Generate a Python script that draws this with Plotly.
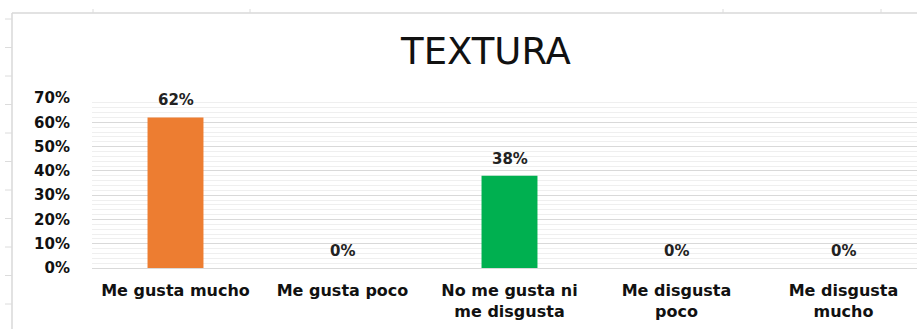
import plotly.graph_objects as go

# Survey results for texture preference
categories = [
    "Me gusta mucho",
    "Me gusta poco",
    "No me gusta ni<br>me disgusta",
    "Me disgusta<br>poco",
    "Me disgusta<br>mucho",
]
values = [0.62, 0.0, 0.38, 0.0, 0.0]
bar_colors = ["#ED7D31", "#ED7D31", "#00B050", "#ED7D31", "#ED7D31"]
tick_vals = [0, 0.1, 0.2, 0.3, 0.4, 0.5, 0.6, 0.7]
tick_text = ["0%", "10%", "20%", "30%", "40%", "50%", "60%", "70%"]

W, H = 917, 329
ML, MR, MT, MB = 92, 0, 98, 61
plot_w = W - ML - MR
plot_h = H - MT - MB

fig = go.Figure()
fig.add_trace(go.Bar(
    x=list(range(len(categories))),
    y=values,
    marker=dict(color=bar_colors, line=dict(width=0)),
    width=0.335,
    hoverinfo="skip",
))

# value labels above each bar
for i, v in enumerate(values):
    fig.add_annotation(
        x=i, y=v, xref="x", yref="y",
        text=f"{round(v * 100)}%",
        showarrow=False, yshift=17,
        font=dict(family="DejaVu Sans", size=15, color="#222222", weight="bold"),
    )

# outer chart frame (left and top edges) and faint sheet ticks
def px_x(px):
    return (px - ML) / plot_w

def px_y(py):
    return 1 - (py - MT) / plot_h

frame_color = "#d9d9d9"
shapes = [
    dict(type="line", xref="paper", yref="paper",
         x0=px_x(12), x1=px_x(W), y0=px_y(13), y1=px_y(13),
         line=dict(color=frame_color, width=1.5)),
    dict(type="line", xref="paper", yref="paper",
         x0=px_x(12), x1=px_x(12), y0=px_y(13), y1=px_y(H),
         line=dict(color=frame_color, width=1.5)),
]
for ty in [19, 47.5, 76, 104.5, 133, 161.5, 190, 218.5, 247, 275.5, 304]:
    shapes.append(dict(type="line", xref="paper", yref="paper",
                       x0=px_x(5), x1=px_x(12), y0=px_y(ty), y1=px_y(ty),
                       line=dict(color="#dcdcdc", width=1)))
for tx in [93, 250, 723, 881]:
    shapes.append(dict(type="line", xref="paper", yref="paper",
                       x0=px_x(tx), x1=px_x(tx), y0=px_y(9), y1=px_y(13),
                       line=dict(color="#dcdcdc", width=1)))

fig.update_layout(
    width=W, height=H,
    margin=dict(l=ML, r=MR, t=MT, b=MB, pad=0),
    paper_bgcolor="white", plot_bgcolor="white",
    showlegend=False,
    shapes=shapes,
    title=dict(
        text="TEXTURA",
        x=486 / W, xref="container", xanchor="center",
        y=1 - 51 / H, yref="container", yanchor="middle",
        font=dict(family="DejaVu Sans", size=37, color="#111111"),
    ),
    xaxis=dict(
        range=[-0.5, -0.5 + plot_w / 167.0],
        tickmode="array",
        tickvals=list(range(len(categories))),
        ticktext=categories,
        tickfont=dict(family="DejaVu Sans", size=16, color="#111111", weight="bold"),
        showgrid=False, zeroline=False, showline=False,
        ticks="", ticklabelstandoff=11,
        fixedrange=True,
    ),
    yaxis=dict(
        range=[0, 0.7],
        tickmode="array",
        tickvals=tick_vals,
        ticktext=tick_text,
        tickfont=dict(family="DejaVu Sans", size=15, color="#111111", weight="bold"),
        showgrid=True, gridcolor="#d9d9d9", gridwidth=1,
        minor=dict(dtick=0.02, showgrid=True, gridcolor="#efefef", gridwidth=1),
        zeroline=True, zerolinecolor="#d9d9d9", zerolinewidth=1,
        showline=False, ticks="", ticklabelstandoff=21,
        fixedrange=True,
    ),
)

fig.write_html("out.html")
